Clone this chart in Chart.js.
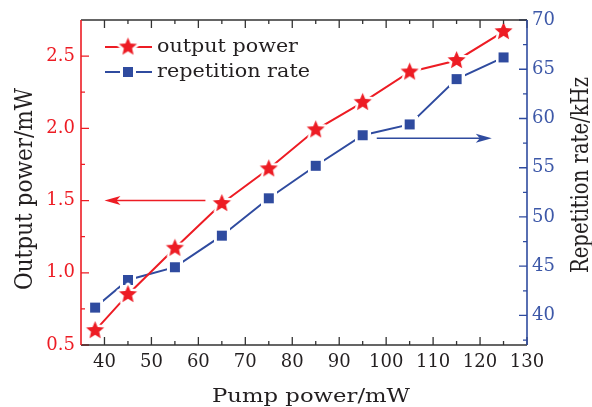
<!DOCTYPE html>
<html>
<head>
<meta charset="utf-8">
<script src="https://cdn.jsdelivr.net/npm/chart.js@4.4.0/dist/chart.umd.min.js"></script>
<style>
  html, body { margin: 0; padding: 0; background: #fff; }
  #wrap { width: 592px; height: 407px; }
</style>
</head>
<body>
<div id="wrap"><canvas id="chart" width="592" height="407"></canvas></div>
<script>
// data
const pumpPower = [38, 45, 55, 65, 75, 85, 95, 105, 115, 125];
const outputPower = [0.60, 0.85, 1.17, 1.48, 1.72, 1.99, 2.18, 2.39, 2.47, 2.67];
const repRate = [40.8, 43.6, 44.9, 48.1, 51.9, 55.2, 58.3, 59.4, 64.0, 66.2];

// tick labels
const xTicks = [40, 50, 60, 70, 80, 90, 100, 110, 120, 130];
const xMinor = [45, 55, 65, 75, 85, 95, 105, 115, 125];
const powerTicks = [0.5, 1.0, 1.5, 2.0, 2.5];
const powerMinor = [0.75, 1.25, 1.75, 2.25];
const rateTicks = [40, 45, 50, 55, 60, 65, 70];
const rateMinor = [37.5, 42.5, 47.5, 52.5, 57.5, 62.5, 67.5];

// arrows pointing at the axis each curve belongs to
const powerArrow = { from: 61.5, to: 40, y: 1.5 };
const rateArrow = { from: 98, to: 122.5, y: 58 };

const RED = '#ed1c24';
const BLUE = '#2f4b9f';
const BLUE_TXT = '#3d58a8';
const DARK = '#231f20';
const FONT = '"DejaVu Serif", "Liberation Serif", serif';

// filled star with white halo, used as point style
function makeStar(r, color) {
    const pad = 4;
    const s = Math.ceil(2 * (r + pad));
    const c = document.createElement('canvas');
    c.width = s; c.height = s;
    const g = c.getContext('2d');
    g.beginPath();
    for (let i = 0; i < 10; i++) {
        const rad = i % 2 === 0 ? r : r * 0.45;
        const a = -Math.PI / 2 + i * Math.PI / 5;
        g.lineTo(s / 2 + rad * Math.cos(a), s / 2 + rad * Math.sin(a));
    }
    g.closePath();
    g.lineJoin = 'round';
    g.strokeStyle = '#fff';
    g.lineWidth = 5;
    g.stroke();
    g.fillStyle = color;
    g.fill();
    return c;
}

function makeSquare(side, color) {
    const pad = 3;
    const s = side + 2 * pad;
    const c = document.createElement('canvas');
    c.width = s; c.height = s;
    const g = c.getContext('2d');
    g.fillStyle = '#fff';
    g.fillRect(0, 0, s, s);
    g.fillStyle = color;
    g.fillRect(pad, pad, side, side);
    return c;
}

const starImg = makeStar(9.5, RED);
const squareImg = makeSquare(10, BLUE);

// text stretched along its direction to a given length
function drawFitted(ctx, text, x, y, len, size, angle, color) {
    ctx.save();
    ctx.translate(x, y);
    ctx.rotate(angle);
    ctx.font = size + 'px ' + FONT;
    const w = ctx.measureText(text).width;
    ctx.scale(len / w, 1);
    ctx.fillStyle = color;
    ctx.textAlign = 'center';
    ctx.textBaseline = 'alphabetic';
    ctx.fillText(text, 0, 0);
    ctx.restore();
}

function drawLeftFitted(ctx, text, x, y, len, size, color) {
    ctx.save();
    ctx.translate(x, y);
    ctx.font = size + 'px ' + FONT;
    const w = ctx.measureText(text).width;
    ctx.scale(len / w, 1);
    ctx.fillStyle = color;
    ctx.textAlign = 'left';
    ctx.textBaseline = 'alphabetic';
    ctx.fillText(text, 0, 0);
    ctx.restore();
}

function arrow(ctx, x1, x2, y, color) {
    const dir = Math.sign(x2 - x1);
    ctx.strokeStyle = color;
    ctx.fillStyle = color;
    ctx.lineWidth = 1.4;
    ctx.beginPath();
    ctx.moveTo(x1, y);
    ctx.lineTo(x2 - dir * 10, y);
    ctx.stroke();
    ctx.beginPath();
    ctx.moveTo(x2, y);
    ctx.lineTo(x2 - dir * 16, y - 4.5);
    ctx.lineTo(x2 - dir * 12, y);
    ctx.lineTo(x2 - dir * 16, y + 4.5);
    ctx.closePath();
    ctx.fill();
}

const framePlugin = {
    id: 'frame',
    afterDatasetsDraw(chart) {
        const ctx = chart.ctx;
        const { left, right, top, bottom } = chart.chartArea;
        const x = chart.scales.x, y = chart.scales.y, y1 = chart.scales.y1;

        ctx.save();
        ctx.lineWidth = 1.3;

        // x ticks, bottom and mirrored on top
        ctx.strokeStyle = '#333';
        ctx.beginPath();
        xTicks.forEach(v => {
            const px = x.getPixelForValue(v);
            ctx.moveTo(px, bottom); ctx.lineTo(px, bottom - 8);
            ctx.moveTo(px, top); ctx.lineTo(px, top + 8);
        });
        xMinor.forEach(v => {
            const px = x.getPixelForValue(v);
            ctx.moveTo(px, bottom); ctx.lineTo(px, bottom - 4);
            ctx.moveTo(px, top); ctx.lineTo(px, top + 4);
        });
        ctx.stroke();

        // left axis ticks
        ctx.strokeStyle = RED;
        ctx.beginPath();
        powerTicks.forEach(v => {
            const py = y.getPixelForValue(v);
            ctx.moveTo(left, py); ctx.lineTo(left + 8, py);
        });
        powerMinor.forEach(v => {
            const py = y.getPixelForValue(v);
            ctx.moveTo(left, py); ctx.lineTo(left + 4, py);
        });
        ctx.stroke();

        // right axis ticks
        ctx.strokeStyle = BLUE;
        ctx.beginPath();
        rateTicks.forEach(v => {
            const py = y1.getPixelForValue(v);
            ctx.moveTo(right, py); ctx.lineTo(right - 8, py);
        });
        rateMinor.forEach(v => {
            const py = y1.getPixelForValue(v);
            ctx.moveTo(right, py); ctx.lineTo(right - 4, py);
        });
        ctx.stroke();

        // frame
        ctx.lineWidth = 1.6;
        ctx.strokeStyle = '#333';
        ctx.beginPath();
        ctx.moveTo(left, top); ctx.lineTo(right, top);
        ctx.moveTo(left, bottom); ctx.lineTo(right, bottom);
        ctx.stroke();
        ctx.strokeStyle = RED;
        ctx.beginPath();
        ctx.moveTo(left, top); ctx.lineTo(left, bottom);
        ctx.stroke();
        ctx.strokeStyle = BLUE;
        ctx.beginPath();
        ctx.moveTo(right, top); ctx.lineTo(right, bottom);
        ctx.stroke();

        // arrows
        arrow(ctx, x.getPixelForValue(powerArrow.from), x.getPixelForValue(powerArrow.to),
            y.getPixelForValue(powerArrow.y), RED);
        arrow(ctx, x.getPixelForValue(rateArrow.from), x.getPixelForValue(rateArrow.to),
            y1.getPixelForValue(rateArrow.y), BLUE);

        // legend
        ctx.lineWidth = 2;
        ctx.strokeStyle = RED;
        ctx.beginPath();
        ctx.moveTo(105, 47); ctx.lineTo(152, 47);
        ctx.stroke();
        ctx.drawImage(starImg, 128 - starImg.width / 2, 47 - starImg.height / 2);
        ctx.strokeStyle = BLUE;
        ctx.beginPath();
        ctx.moveTo(105, 72); ctx.lineTo(152, 72);
        ctx.stroke();
        ctx.drawImage(squareImg, 128 - squareImg.width / 2, 72 - squareImg.height / 2);
        drawLeftFitted(ctx, 'output power', 157, 52, 141, 19, DARK);
        drawLeftFitted(ctx, 'repetition rate', 157, 77, 153, 19, DARK);

        // axis titles
        drawFitted(ctx, 'Pump power/mW', 311, 402, 198, 18, 0, DARK);
        drawFitted(ctx, 'Output power/mW', 32, 189, 202, 25, -Math.PI / 2, DARK);
        drawFitted(ctx, 'Repetition rate/kHz', 588, 175, 196, 24, -Math.PI / 2, DARK);

        ctx.restore();
    }
};

new Chart(document.getElementById('chart'), {
    type: 'line',
    data: {
        datasets: [{
            label: 'output power',
            data: pumpPower.map((p, i) => ({ x: p, y: outputPower[i] })),
            yAxisID: 'y',
            borderColor: RED,
            backgroundColor: RED,
            borderWidth: 2,
            pointStyle: starImg,
            pointRadius: 10,
            tension: 0,
            clip: false
        }, {
            label: 'repetition rate',
            data: pumpPower.map((p, i) => ({ x: p, y: repRate[i] })),
            yAxisID: 'y1',
            borderColor: BLUE,
            backgroundColor: BLUE,
            borderWidth: 2,
            pointStyle: squareImg,
            pointRadius: 8,
            tension: 0,
            clip: false
        }]
    },
    options: {
        responsive: false,
        animation: false,
        layout: { padding: { top: 20, left: 0, right: 0, bottom: 0 } },
        plugins: {
            legend: { display: false },
            tooltip: { enabled: false }
        },
        scales: {
            x: {
                type: 'linear',
                min: 35,
                max: 130,
                afterBuildTicks: s => { s.ticks = xTicks.map(v => ({ value: v })); },
                afterFit: s => { s.height = 62; },
                grid: { display: false, drawTicks: false },
                border: { display: false },
                ticks: { color: DARK, padding: 7, maxRotation: 0, font: { family: FONT, size: 18 } }
            },
            y: {
                position: 'left',
                min: 0.5,
                max: 2.75,
                afterBuildTicks: s => { s.ticks = powerTicks.map(v => ({ value: v })); },
                afterFit: s => { s.width = 81; },
                grid: { display: false, drawTicks: false },
                border: { display: false },
                ticks: {
                    color: RED, padding: 6, font: { family: FONT, size: 18 },
                    callback: v => v.toFixed(1)
                }
            },
            y1: {
                position: 'right',
                min: 37,
                max: 70,
                afterBuildTicks: s => { s.ticks = rateTicks.map(v => ({ value: v })); },
                afterFit: s => { s.width = 65; },
                grid: { display: false, drawTicks: false },
                border: { display: false },
                ticks: { color: BLUE_TXT, padding: 5, font: { family: FONT, size: 18 } }
            }
        }
    },
    plugins: [framePlugin]
});
</script>
</body>
</html>
